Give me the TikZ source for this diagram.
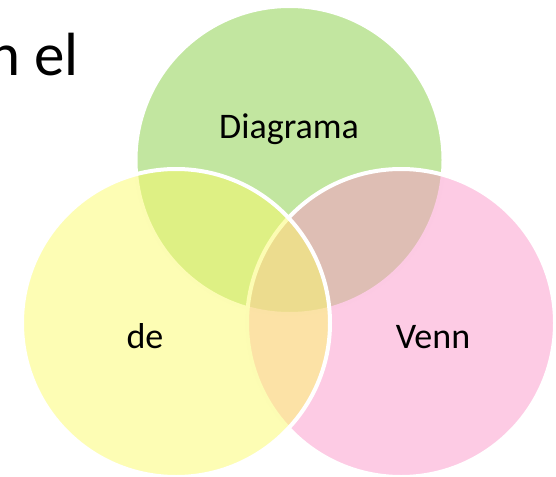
\documentclass[tikz,border=0pt]{standalone}
\usepackage{fontspec}
\setmainfont{Carlito}
\definecolor{vgreen}{RGB}{133,205,65}
\definecolor{vyellow}{RGB}{251,251,105}
\definecolor{vpink}{RGB}{251,151,201}
\begin{document}
\begin{tikzpicture}[x=1pt,y=-1pt,
  venn/.style={fill opacity=0.5, draw=white, line width=4pt},
  lbl/.style={font=\fontsize{36}{42}\selectfont, text=black, inner sep=0pt, anchor=base},
  title/.style={font=\fontsize{61}{70}\selectfont, text=black, inner sep=0pt, anchor=base east}]
\useasboundingbox (0,0) rectangle (556,476);
\draw[venn, fill=vgreen]  (289.5,160) circle[radius=154];
\draw[venn, fill=vpink]   (401,323) circle[radius=154];
\draw[venn, fill=vyellow] (176,323) circle[radius=154];
\node[title] (t) at (79,76) {n el};
\node[lbl] (a) at (289,138) {Diagrama};
\node[lbl] (b) at (145,348) {de};
\node[lbl] (c) at (433,348) {Venn};
\end{tikzpicture}
\end{document}
